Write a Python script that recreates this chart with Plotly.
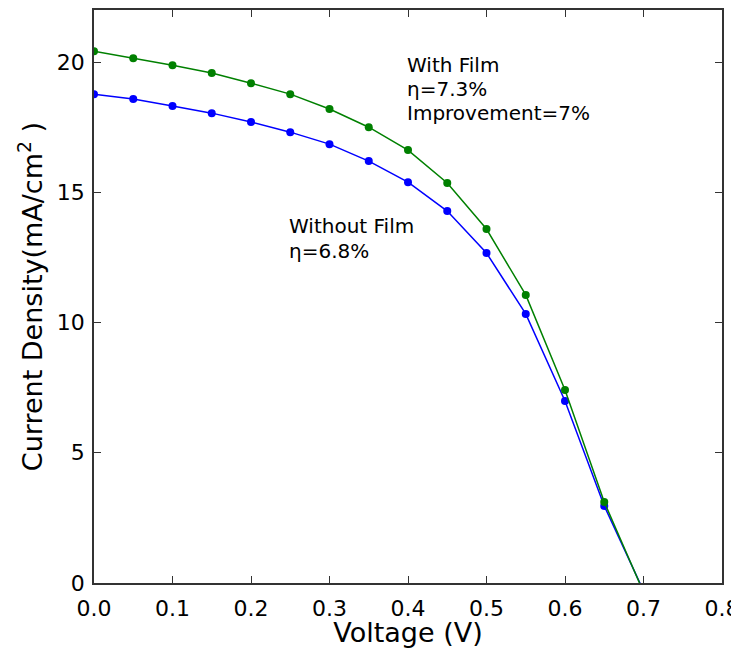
import plotly.graph_objects as go

voltage = [0.0, 0.05, 0.1, 0.15, 0.2, 0.25, 0.3, 0.35, 0.4, 0.45, 0.5, 0.55, 0.6, 0.65, 0.7]
with_film = [20.42, 20.15, 19.88, 19.58, 19.19, 18.77, 18.2, 17.5, 16.62, 15.36, 13.59, 11.06, 7.41, 3.11, -0.35]
without_film = [18.77, 18.58, 18.31, 18.04, 17.7, 17.31, 16.85, 16.2, 15.39, 14.28, 12.67, 10.33, 6.99, 2.96, -0.3]

x_ticks = [0.0, 0.1, 0.2, 0.3, 0.4, 0.5, 0.6, 0.7, 0.8]
y_ticks = [0, 5, 10, 15, 20]

with_film_text = ["With Film", "η=7.3%", "Improvement=7%"]
with_film_text_y = [19.88, 18.96, 18.04]
without_film_text = ["Without Film", "η=6.8%"]
without_film_text_y = [13.7, 12.74]

font = "DejaVu Sans, Verdana, sans-serif"

fig = go.Figure()
fig.add_trace(go.Scatter(x=voltage, y=without_film, mode="lines+markers",
                         line=dict(color="#0000ff", width=1.5),
                         marker=dict(color="#0000ff", size=8), name="Without Film"))
fig.add_trace(go.Scatter(x=voltage, y=with_film, mode="lines+markers",
                         line=dict(color="#008000", width=1.5),
                         marker=dict(color="#008000", size=8), name="With Film"))

axis_common = dict(showline=True, linecolor="#333333", linewidth=1.5, mirror="allticks",
                   ticks="inside", ticklen=7, tickwidth=1, tickcolor="#333333",
                   showgrid=False, zeroline=False, automargin=False,
                   ticklabeloverflow="allow",
                   tickfont=dict(family=font, size=22, color="black"))

fig.update_xaxes(range=[0, 0.8], tickvals=x_ticks, ticktext=[f"{v:.1f}" for v in x_ticks],
                 ticklabelstandoff=5,
                 title=dict(text="Voltage (V)", font=dict(family=font, size=27, color="black"), standoff=2),
                 **axis_common)
fig.update_yaxes(range=[0, 22], tickvals=y_ticks, ticktext=[str(v) for v in y_ticks],
                 ticklabelstandoff=3,
                 title=dict(text="Current Density(mA/cm<sup>2</sup> )", font=dict(family=font, size=27, color="black"), standoff=6),
                 **axis_common)

for txt, yy in zip(with_film_text, with_film_text_y):
    fig.add_annotation(x=0.4, y=yy, xref="x", yref="y", xanchor="left", yanchor="middle",
                       text=txt, showarrow=False, align="left", xshift=-3,
                       font=dict(family=font, size=20, color="black"))
for txt, yy in zip(without_film_text, without_film_text_y):
    fig.add_annotation(x=0.25, y=yy, xref="x", yref="y", xanchor="left", yanchor="middle",
                       text=txt, showarrow=False, align="left", xshift=-3,
                       font=dict(family=font, size=20, color="black"))

# page body has an 8px margin, so the figure is sized/offset to compensate
fig.update_layout(width=731, height=640, showlegend=False,
                  paper_bgcolor="white", plot_bgcolor="white",
                  margin=dict(l=86, r=17, t=2, b=65))

fig.write_html("out.html")
